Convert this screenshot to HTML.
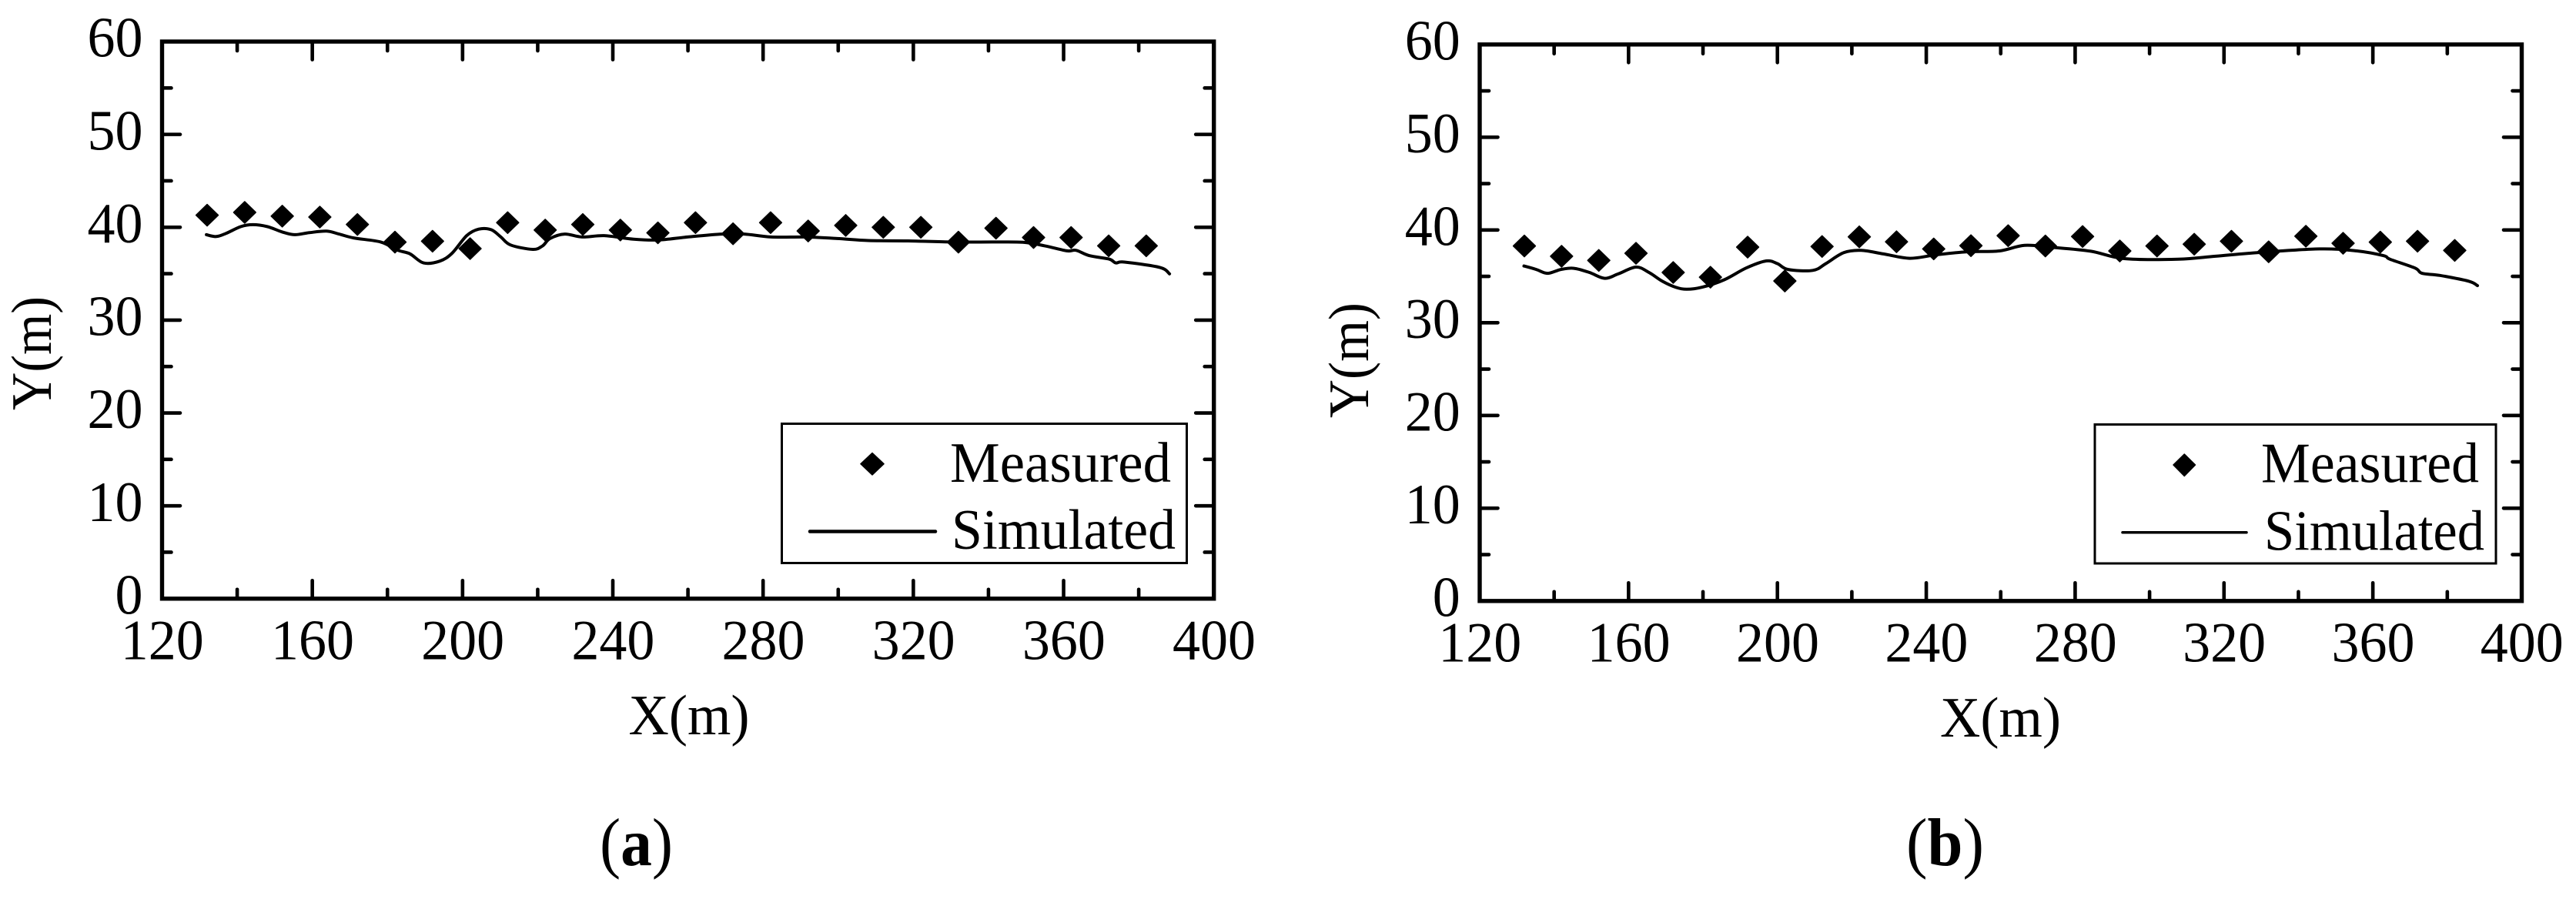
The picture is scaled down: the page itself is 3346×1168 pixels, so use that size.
<!DOCTYPE html>
<html lang="en">
<head>
<meta charset="utf-8">
<title>Measured vs Simulated</title>
<style>
html,body{margin:0;padding:0;background:#fff;}
svg{display:block;}
text{font-family:"Liberation Serif",serif;font-size:74px;fill:#000;}
.caption{font-size:88px;}
</style>
</head>
<body>
<svg id="figure" xmlns="http://www.w3.org/2000/svg" width="3346" height="1168" viewBox="0 0 3346 1168">
  <rect x="0" y="0" width="3346" height="1168" fill="#fff"/>
  <g id="panel-a">
    <text transform="translate(66,459) rotate(-90)" text-anchor="middle" textLength="148" lengthAdjust="spacingAndGlyphs">Y(m)</text>
    <text x="895" y="954" text-anchor="middle" textLength="157" lengthAdjust="spacingAndGlyphs">X(m)</text>
    <g>
      <rect x="1015.5" y="550.5" width="526" height="181" fill="#fff" stroke="#000" stroke-width="3"/>
      <path d="M1133 588.5L1148 602.7L1133 617L1118 602.7Z" fill="#000" stroke="#000" stroke-width="1.5" stroke-linejoin="round"/>
      <line x1="1052" y1="690.5" x2="1215" y2="690.5" stroke="#000" stroke-width="4.5" stroke-linecap="round"/>
      <text x="1234" y="626" textLength="287" lengthAdjust="spacingAndGlyphs">Measured</text>
      <text x="1236" y="713" textLength="291" lengthAdjust="spacingAndGlyphs">Simulated</text>
    </g>
    <text class="caption" x="779" y="1124" textLength="95" lengthAdjust="spacingAndGlyphs">(<tspan font-weight="bold">a</tspan>)</text>
  </g>
  <g id="panel-b">
    <text transform="translate(1777,468) rotate(-90)" text-anchor="middle" textLength="150" lengthAdjust="spacingAndGlyphs">Y(m)</text>
    <text x="2598.5" y="957" text-anchor="middle" textLength="157" lengthAdjust="spacingAndGlyphs">X(m)</text>
    <g>
      <rect x="2721" y="551.5" width="521" height="180.5" fill="#fff" stroke="#000" stroke-width="3"/>
      <path d="M2837.3 590L2851.5 604L2837.3 618.5L2823 604Z" fill="#000" stroke="#000" stroke-width="1.5" stroke-linejoin="round"/>
      <line x1="2757" y1="691.7" x2="2918" y2="691.7" stroke="#000" stroke-width="3.5" stroke-linecap="round"/>
      <text x="2937" y="626.5" textLength="283" lengthAdjust="spacingAndGlyphs">Measured</text>
      <text x="2941" y="714.5" textLength="286" lengthAdjust="spacingAndGlyphs">Simulated</text>
    </g>
    <text class="caption" x="2476" y="1124" textLength="101" lengthAdjust="spacingAndGlyphs">(<tspan font-weight="bold">b</tspan>)</text>
  </g>
</svg>
<script>
var xMajorTicks = [120,160,200,240,280,320,360,400];
var xMinorTicks = [140,180,220,260,300,340,380];
var yMajorTicks = [0,10,20,30,40,50,60];
var yMinorTicks = [5,15,25,35,45,55];

var measuredX = [132,142,152,162,172,182,192,202,212,222,232,242,252,262,272,282,292,302,312,322,332,342,352,362,372,382];

var measuredYA = [41.3,41.6,41.2,41.1,40.3,38.4,38.5,37.7,40.5,39.7,40.3,39.7,39.4,40.5,39.3,40.5,39.6,40.2,40.0,40.0,38.4,39.9,38.9,38.9,38.0,38.0];
var simulatedXA = [131.8,134.4,137.0,140.9,144.2,148.1,152.0,155.3,159.2,163.8,167.1,171.0,178.2,182.8,186.0,189.6,193.9,197.2,201.1,204.3,207.6,210.2,212.8,218.7,221.3,223.3,227.2,231.8,237.7,245.5,252.1,259.9,269.1,275.0,282.1,291.5,299.7,308.0,318.6,330.3,341.0,349.2,355.0,360.9,363.3,366.8,372.1,373.9,376.2,385.6,388.2];
var simulatedYA = [39.2,39.0,39.33,40.06,40.28,40.06,39.49,39.2,39.42,39.58,39.27,38.85,38.41,37.52,37.14,36.16,36.35,37.2,39.1,39.8,39.74,38.95,38.09,37.62,38.0,38.79,39.27,38.95,39.1,38.72,38.63,38.95,39.27,39.27,38.95,38.95,38.79,38.57,38.53,38.41,38.41,38.38,38.0,37.46,37.52,36.95,36.57,36.16,36.25,35.68,34.98];

var measuredYB = [38.28,37.17,36.72,37.49,35.42,34.91,38.15,34.5,38.22,39.26,38.73,37.96,38.31,39.39,38.28,39.3,37.74,38.28,38.47,38.79,37.65,39.33,38.57,38.69,38.79,37.8];
var simulatedXB = [131.9,135.2,138.2,141.8,145.3,149.5,153.6,157.2,162.0,165.5,169.1,172.6,175.6,179.8,185.7,191.6,197.0,200.0,202.9,209.5,213.0,217.8,222.5,228.5,235.6,242.7,251.0,259.7,266.4,274.2,284.2,293.2,307.7,317.7,328.9,345.6,355.7,362.9,364.6,371.3,373.2,378.0,385.8,388.1];
var simulatedYB = [36.12,35.74,35.33,35.74,35.87,35.42,34.79,35.26,36.0,35.42,34.47,33.83,33.61,33.83,34.63,35.9,36.66,36.37,35.74,35.64,36.37,37.55,37.8,37.42,36.95,37.33,37.65,37.74,38.34,38.12,37.71,36.91,36.85,37.17,37.55,37.96,37.74,37.23,36.85,35.9,35.33,35.1,34.47,34.0];

var SVG_NS = 'http://www.w3.org/2000/svg';

function make(tag, parent, attrs) {
  var el = document.createElementNS(SVG_NS, tag);
  for (var k in attrs) { el.setAttribute(k, attrs[k]); }
  parent.appendChild(el);
  return el;
}

function smoothPath(xs, ys, sx, sy) {
  var pts = xs.map(function (x, i) { return [sx(x), sy(ys[i])]; });
  var d = 'M' + pts[0][0].toFixed(1) + ' ' + pts[0][1].toFixed(1);
  for (var i = 0; i < pts.length - 1; i++) {
    var p0 = pts[Math.max(0, i - 1)], p1 = pts[i], p2 = pts[i + 1], p3 = pts[Math.min(pts.length - 1, i + 2)];
    var c1x = p1[0] + (p2[0] - p0[0]) / 6, c1y = p1[1] + (p2[1] - p0[1]) / 6;
    var c2x = p2[0] - (p3[0] - p1[0]) / 6, c2y = p2[1] - (p3[1] - p1[1]) / 6;
    d += 'C' + c1x.toFixed(1) + ' ' + c1y.toFixed(1) + ' ' + c2x.toFixed(1) + ' ' + c2y.toFixed(1) + ' ' + p2[0].toFixed(1) + ' ' + p2[1].toFixed(1);
  }
  return d;
}

function drawPanel(panelId, frame, measY, simX, simY) {
  var panel = document.getElementById(panelId);
  var sx = function (v) { return frame.left + (v - 120) * (frame.right - frame.left) / 280; };
  var sy = function (v) { return frame.bottom - v * (frame.bottom - frame.top) / 60; };
  var plot = document.createElementNS(SVG_NS, 'g');
  
  
  panel.insertBefore(plot, panel.firstChild);

  var tickStyle = { stroke: '#000', 'stroke-width': 4.6, 'stroke-linecap': 'round' };
  function tick(x1, y1, x2, y2) {
    var attrs = { x1: x1, y1: y1, x2: x2, y2: y2 };
    for (var k in tickStyle) { attrs[k] = tickStyle[k]; }
    var t = make('line', plot, attrs);
    
    
  }

  xMajorTicks.forEach(function (v) {
    var x = sx(v);
    if (v !== 120 && v !== 400) {
      tick(x, frame.top, x, frame.top + 23.5);
      tick(x, frame.bottom, x, frame.bottom - 23.5);
    }
    var text = String(v);
    var label = make('text', plot, { x: x + 0.3, y: frame.xLabelY, 'text-anchor': 'middle', textLength: text.length * 36, lengthAdjust: 'spacingAndGlyphs' });
    
    
    label.textContent = text;
  });
  xMinorTicks.forEach(function (v) {
    var x = sx(v);
    tick(x, frame.top, x, frame.top + 12);
    tick(x, frame.bottom, x, frame.bottom - 12);
  });
  yMajorTicks.forEach(function (v) {
    var y = sy(v);
    if (v !== 0 && v !== 60) {
      tick(frame.left, y, frame.left + 23.5, y);
      tick(frame.right, y, frame.right - 23.5, y);
    }
    var text = String(v);
    var label = make('text', plot, { x: frame.yLabelX, y: y + 19.7, 'text-anchor': 'end', textLength: text.length * 36, lengthAdjust: 'spacingAndGlyphs' });
    
    
    label.textContent = text;
  });
  yMinorTicks.forEach(function (v) {
    var y = sy(v);
    tick(frame.left, y, frame.left + 12, y);
    tick(frame.right, y, frame.right - 12, y);
  });

  var box = make('rect', plot, {
    x: frame.left, y: frame.top,
    width: frame.right - frame.left, height: frame.bottom - frame.top,
    fill: 'none', stroke: '#000', 'stroke-width': 5.4
  });
  
  

  var line = make('path', plot, {
    d: smoothPath(simX, simY, sx, sy),
    fill: 'none', stroke: '#000', 'stroke-width': 4, 'stroke-linejoin': 'round', 'stroke-linecap': 'round'
  });
  
  

  measuredX.forEach(function (v, i) {
    var cx = sx(v), cy = sy(measY[i]);
    var m = make('path', plot, {
      d: 'M' + cx + ' ' + (cy - 14) + 'L' + (cx + 14.4) + ' ' + cy + 'L' + cx + ' ' + (cy + 14) + 'L' + (cx - 14.4) + ' ' + cy + 'Z',
      fill: '#000', stroke: '#000', 'stroke-width': 1.5, 'stroke-linejoin': 'round'
    });
    
    
  });
}

drawPanel('panel-a', { left: 210.5, right: 1576.7, top: 54, bottom: 777.8, xLabelY: 856.5, yLabelX: 185.5 }, measuredYA, simulatedXA, simulatedYA);
drawPanel('panel-b', { left: 1922, right: 3275.5, top: 57.8, bottom: 780.8, xLabelY: 859.5, yLabelX: 1896.8 }, measuredYB, simulatedXB, simulatedYB);
</script>
</body>
</html>
